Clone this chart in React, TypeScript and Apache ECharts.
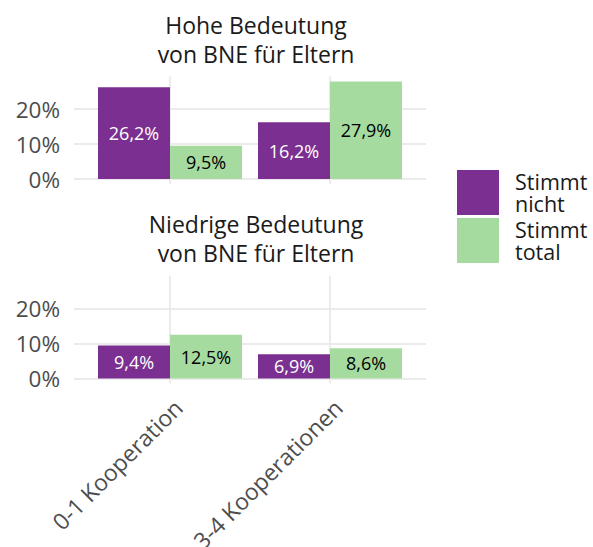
import React, { useEffect, useRef } from "react";
import * as echarts from "echarts";

const categories = ["0-1 Kooperation", "3-4 Kooperationen"];
const panelTitles = ["Hohe Bedeutung\nvon BNE für Eltern", "Niedrige Bedeutung\nvon BNE für Eltern"];
const seriesNames = ["Stimmt nicht", "Stimmt total"];
const hoheNicht = [26.2, 16.2];
const hoheTotal = [9.5, 27.9];
const niedrigNicht = [9.4, 6.9];
const niedrigTotal = [12.5, 8.6];
const yTicks = [0, 10, 20];
const colors = ["#7B2F91", "#A6DBA0"];

const FONT = "Open Sans";

export default function App() {
  const ref = useRef<HTMLDivElement>(null);
  useEffect(() => {
    document.body.style.margin = "0";
    const chart = echarts.init(ref.current!, null, { renderer: "svg" });
    const all = [...hoheNicht, ...hoheTotal, ...niedrigNicht, ...niedrigTotal];
    const dmax = Math.max(...all);
    const pad = dmax * 0.05;
    const xs = categories.map((_, i) => i + 1);
    const grids = [
      { left: 74, width: 352, top: 76.5, height: 107.5, containLabel: false, outerBoundsMode: "none" },
      { left: 74, width: 352, top: 275.8, height: 107.5, containLabel: false, outerBoundsMode: "none" },
    ];
    const mkX = (gi: number, showLabels: boolean) => ({
      type: "value",
      gridIndex: gi,
      min: 0.4,
      max: 2.6,
      axisLine: { show: false },
      axisTick: { show: false, customValues: xs },
      splitLine: { show: true, lineStyle: { color: "#EBEBEB", width: 2 } },
      axisLabel: {
        show: showLabels,
        customValues: xs,
        formatter: (v: number) => categories[Math.round(v) - 1] ?? "",
        rotate: 45,
        align: "right",
        verticalAlign: "top",
        margin: 12,
        fontFamily: FONT,
        fontSize: 23,
        color: "#4D4D4D",
      },
    });
    const mkY = (gi: number) => ({
      type: "value",
      gridIndex: gi,
      min: -pad,
      max: dmax + pad,
      axisLine: { show: false },
      axisTick: { show: false, customValues: yTicks },
      splitLine: { show: true, lineStyle: { color: "#EBEBEB", width: 2 } },
      axisLabel: {
        customValues: yTicks,
        formatter: (v: number) => `${v}%`,
        margin: 14,
        fontFamily: FONT,
        fontSize: 22.5,
        color: "#4D4D4D",
      },
    });
    const fmt = (p: any) => `${p.value[1].toFixed(1).replace(".", ",")}%`;
    const mkSeries = (gi: number, idx: number, vals: number[]) => ({
      type: "bar",
      name: seriesNames[idx],
      xAxisIndex: gi,
      yAxisIndex: gi,
      data: vals.map((v, i) => [xs[i], v]),
      barWidth: 72,
      barGap: "0%",
      itemStyle: { color: colors[idx] },
      label: {
        show: true,
        position: "inside",
        formatter: fmt,
        fontFamily: FONT,
        fontSize: 18,
        color: idx === 0 ? "#FFFFFF" : "#000000",
      },
    });
    const titleStyle = { fontFamily: FONT, fontSize: 23, fontWeight: "normal", color: "#1A1A1A", lineHeight: 29 };
    chart.setOption({
      animation: false,
      textStyle: { fontFamily: FONT },
      title: [
        { text: panelTitles[0], left: 251, top: 5, textAlign: "center", textStyle: titleStyle },
        { text: panelTitles[1], left: 251, top: 204, textAlign: "center", textStyle: titleStyle },
      ],
      legend: {
        orient: "vertical",
        left: 452,
        top: 165,
        icon: "rect",
        itemWidth: 42,
        itemHeight: 45,
        itemGap: 3,
        data: seriesNames,
        formatter: (n: string) => n.replace(" ", "\n"),
        textStyle: { fontFamily: FONT, fontSize: 21.5, lineHeight: 22, color: "#1A1A1A", padding: [0, 0, 0, 11] },
        selectedMode: false,
      },
      grid: grids,
      xAxis: [mkX(0, false), mkX(1, true)],
      yAxis: [mkY(0), mkY(1)],
      series: [
        mkSeries(0, 0, hoheNicht),
        mkSeries(0, 1, hoheTotal),
        mkSeries(1, 0, niedrigNicht),
        mkSeries(1, 1, niedrigTotal),
      ],
    });
    return () => chart.dispose();
  }, []);
  return <div ref={ref} style={{ width: 593, height: 547 }} />;
}
